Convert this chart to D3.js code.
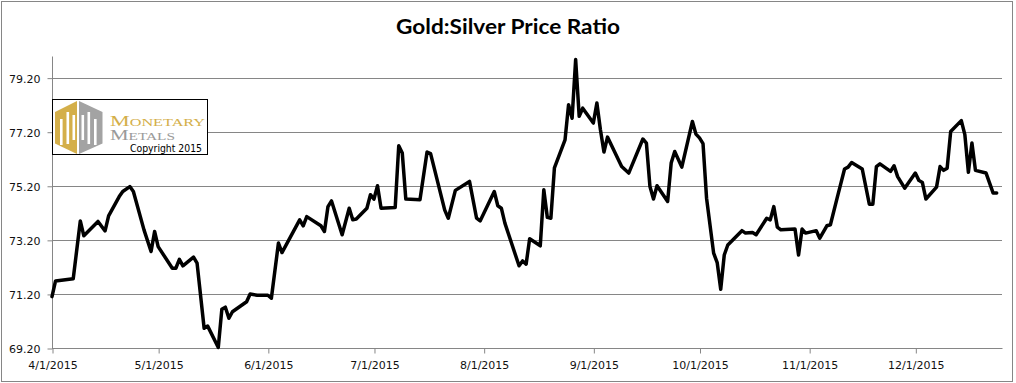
<!DOCTYPE html>
<html><head><meta charset="utf-8">
<script src="https://cdn.jsdelivr.net/npm/d3@7"></script>
<style>html,body{margin:0;padding:0;background:#fff;}svg{display:block;}</style>
</head><body>
<script>
const dates = ["2015-04-01","2015-04-02","2015-04-07","2015-04-09","2015-04-10","2015-04-14","2015-04-16","2015-04-17","2015-04-20","2015-04-21","2015-04-23","2015-04-24","2015-04-27","2015-04-29","2015-04-30","2015-05-01","2015-05-05","2015-05-06","2015-05-07","2015-05-08","2015-05-11","2015-05-12","2015-05-14","2015-05-15","2015-05-18","2015-05-19","2015-05-20","2015-05-21","2015-05-22","2015-05-26","2015-05-27","2015-05-29","2015-06-01","2015-06-02","2015-06-04","2015-06-05","2015-06-10","2015-06-11","2015-06-12","2015-06-16","2015-06-17","2015-06-18","2015-06-19","2015-06-22","2015-06-24","2015-06-25","2015-06-26","2015-06-29","2015-06-30","2015-07-01","2015-07-02","2015-07-03","2015-07-07","2015-07-08","2015-07-09","2015-07-10","2015-07-14","2015-07-16","2015-07-17","2015-07-21","2015-07-22","2015-07-24","2015-07-28","2015-07-30","2015-07-31","2015-08-04","2015-08-05","2015-08-06","2015-08-07","2015-08-11","2015-08-12","2015-08-13","2015-08-14","2015-08-17","2015-08-18","2015-08-19","2015-08-20","2015-08-21","2015-08-24","2015-08-25","2015-08-26","2015-08-27","2015-08-28","2015-08-29","2015-09-01","2015-09-02","2015-09-03","2015-09-04","2015-09-05","2015-09-09","2015-09-11","2015-09-15","2015-09-16","2015-09-17","2015-09-18","2015-09-19","2015-09-22","2015-09-23","2015-09-24","2015-09-26","2015-09-29","2015-09-30","2015-10-01","2015-10-02","2015-10-03","2015-10-05","2015-10-06","2015-10-07","2015-10-08","2015-10-09","2015-10-13","2015-10-14","2015-10-16","2015-10-17","2015-10-20","2015-10-21","2015-10-22","2015-10-23","2015-10-24","2015-10-28","2015-10-29","2015-10-30","2015-10-31","2015-11-03","2015-11-04","2015-11-06","2015-11-07","2015-11-09","2015-11-11","2015-11-12","2015-11-13","2015-11-16","2015-11-18","2015-11-19","2015-11-20","2015-11-21","2015-11-24","2015-11-25","2015-11-26","2015-11-28","2015-12-01","2015-12-02","2015-12-03","2015-12-04","2015-12-07","2015-12-08","2015-12-09","2015-12-10","2015-12-11","2015-12-14","2015-12-15","2015-12-16","2015-12-17","2015-12-18","2015-12-21","2015-12-22","2015-12-23","2015-12-24"];
const ratios = [71.10,71.68,71.76,73.90,73.35,73.88,73.53,74.09,74.80,74.99,75.17,74.99,73.57,72.77,73.51,72.95,72.15,72.15,72.48,72.24,72.56,72.34,69.93,70.01,69.22,70.63,70.71,70.30,70.54,70.91,71.20,71.15,71.15,71.04,73.08,72.73,73.94,73.72,74.06,73.72,73.51,74.43,74.64,73.39,74.37,73.94,73.97,74.37,74.87,74.71,75.20,74.37,74.40,76.68,76.41,74.71,74.68,76.45,76.39,74.30,74.00,75.03,75.36,74.00,73.90,74.99,74.46,74.37,73.82,72.24,72.42,72.30,73.24,72.98,75.05,74.03,74.00,75.86,76.90,78.20,77.70,79.87,77.77,78.07,77.52,78.26,77.27,76.45,77.00,75.91,75.67,76.93,76.78,75.17,74.71,75.20,74.62,76.04,76.47,75.89,77.58,77.11,76.97,76.76,74.74,72.71,72.36,71.37,72.64,73.01,73.54,73.45,73.47,73.39,74.00,73.94,74.43,73.67,73.57,73.60,72.64,73.60,73.45,73.54,73.26,73.72,73.76,74.80,75.82,75.89,76.06,75.82,74.52,74.52,75.91,76.01,75.73,75.94,75.54,75.11,75.67,75.40,75.32,74.71,75.15,75.91,75.77,75.85,77.21,77.61,77.09,75.70,76.78,75.77,75.67,75.30,74.93,74.93];
const yTicks = [69.2,71.2,73.2,75.2,77.2,79.2];
const xTickDates = ["2015-04-01","2015-05-01","2015-06-01","2015-07-01","2015-08-01","2015-09-01","2015-10-01","2015-11-01","2015-12-01"];
const titleText = "Gold:Silver Price Ratio";

const W = 1016, H = 383;
const parse = d3.utcParse("%Y-%m-%d");
const data = dates.map((d,i)=>({date:parse(d), v:ratios[i]}));

const x = d3.scaleUtc().domain([parse("2015-04-01"), new Date(Date.UTC(2015,11,25,12))]).range([52,1002]);
const y = d3.scaleLinear().domain([69.2,80.0]).range([348,56]);

const svg = d3.select("body").append("svg").attr("width",W).attr("height",H);
svg.append("rect").attr("x",0).attr("y",0).attr("width",W).attr("height",H).attr("fill","#fff");
svg.append("rect").attr("x",1.5).attr("y",1.5).attr("width",1011).attr("height",380)
  .attr("fill","#fff").attr("stroke","#868686").attr("stroke-width",1);

// gridlines
svg.append("g").selectAll("line").data(yTicks).join("line")
  .attr("x1",52).attr("x2",1002)
  .attr("y1",d=>Math.round(y(d))+0.5).attr("y2",d=>Math.round(y(d))+0.5)
  .attr("stroke","#868686").attr("stroke-width",1);

// y axis
const yAxis = d3.axisLeft(y).tickValues(yTicks).tickFormat(d3.format(".2f")).tickSize(5).tickPadding(7);
const gy = svg.append("g").attr("transform","translate(52.5,0.5)").call(yAxis);
gy.select(".domain").attr("stroke","#868686").attr("d","M0,56V347.5");
gy.selectAll(".tick line").attr("stroke","#868686");
gy.selectAll(".tick text").attr("font-family","DejaVu Sans, Verdana, sans-serif").attr("font-size",11).attr("fill","#111").attr("dy","0.36em");

// x axis
const xAxis = d3.axisBottom(x).tickValues(xTickDates.map(parse)).tickFormat(d3.utcFormat("%-m/%-d/%Y")).tickSize(5).tickPadding(8);
const gx = svg.append("g").attr("transform","translate(0.5,348.5)").call(xAxis);
gx.select(".domain").attr("stroke","#868686").attr("d","M52,0H1002");
gx.selectAll(".tick line").attr("stroke","#868686");
gx.selectAll(".tick text").attr("font-family","DejaVu Sans, Verdana, sans-serif").attr("font-size",11).attr("fill","#111");

// title
svg.append("text").attr("x",508).attr("y",34).attr("text-anchor","middle")
  .attr("font-family","Lato, Open Sans, sans-serif").attr("font-weight","bold").attr("font-size",20)
  .attr("textLength",224).attr("lengthAdjust","spacingAndGlyphs").attr("fill","#000").text(titleText);

// line
svg.append("path").datum(data)
  .attr("d", d3.line().x(d=>x(d.date)).y(d=>y(d.v)))
  .attr("fill","none").attr("stroke","#000").attr("stroke-width",3.5)
  .attr("stroke-linejoin","round").attr("stroke-linecap","round");

// logo
const logo = svg.append("g");
logo.append("rect").attr("x",52.5).attr("y",99.5).attr("width",155).attr("height",55).attr("fill","#fff").attr("stroke","#000").attr("stroke-width",1);
logo.append("polygon").attr("points","55,112 77,101 77,154 55,143.5").attr("fill","#D4AF4A");
logo.append("polygon").attr("points","79,101 102.5,112 102.5,143.5 79,154").attr("fill","#A3A3A3");
// white slots forming the "MM" mark
[[60,119,145],[66.5,112,144],[72.5,115,140],[81.5,115,140],[87.5,112,144],[94,119,145]].forEach(([a,t,b])=>{
  logo.append("rect").attr("x",a).attr("y",t).attr("width",2.6).attr("height",b-t).attr("fill","#fff");
});
logo.append("text").attr("x",110).attr("y",126).attr("font-family","Liberation Serif, DejaVu Serif, serif")
  .attr("font-size",15).attr("font-variant","small-caps").attr("fill","#D4AF4A")
  .attr("textLength",95).attr("lengthAdjust","spacingAndGlyphs").text("Monetary");
logo.append("text").attr("x",110).attr("y",140).attr("font-family","Liberation Serif, DejaVu Serif, serif")
  .attr("font-size",15).attr("font-variant","small-caps").attr("fill","#9A9A9A")
  .attr("textLength",65).attr("lengthAdjust","spacingAndGlyphs").text("Metals");
logo.append("text").attr("x",130).attr("y",152).attr("font-family","DejaVu Sans, Verdana, sans-serif")
  .attr("font-size",10.5).attr("fill","#000")
  .attr("textLength",72).attr("lengthAdjust","spacingAndGlyphs").text("Copyright 2015");
</script>
</body></html>
